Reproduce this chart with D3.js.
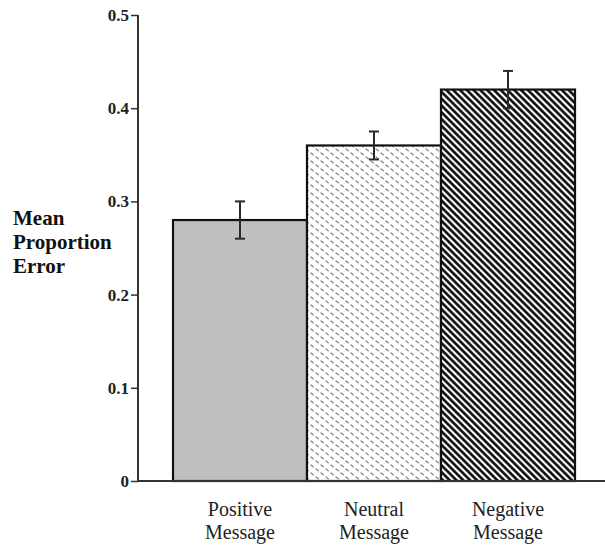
<!DOCTYPE html>
<html>
<head>
<meta charset="utf-8">
<script src="https://cdn.jsdelivr.net/npm/d3@7"></script>
<style>
  body { margin: 0; background: #fff; }
</style>
</head>
<body>
<script>
// data
const categories = ["Positive Message", "Neutral Message", "Negative Message"];
const means = [0.28, 0.36, 0.42];
const errLow = [0.26, 0.345, 0.40];
const errHigh = [0.30, 0.375, 0.44];
const yTicks = [0, 0.1, 0.2, 0.3, 0.4, 0.5];
const fills = ["#bfbfbf", "url(#dots)", "url(#stripes)"];

const W = 605, H = 546;
const axisX = 138, zeroY = 481, topY = 15;
const serif = "'Liberation Serif', 'Times New Roman', serif";

const svg = d3.select("body").append("svg")
  .attr("width", W).attr("height", H);

// patterns
const defs = svg.append("defs");
const dots = defs.append("pattern")
  .attr("id", "dots")
  .attr("patternUnits", "userSpaceOnUse")
  .attr("width", 10).attr("height", 8);
dots.append("rect").attr("width", 10).attr("height", 8).attr("fill", "#fff");
dots.append("path")
  .attr("d", "M1,1 L3.3,2.8 M6,5 L8.3,6.8")
  .attr("stroke", "#858585").attr("stroke-width", 1.3)
  .attr("stroke-linecap", "round");

const stripes = defs.append("pattern")
  .attr("id", "stripes")
  .attr("patternUnits", "userSpaceOnUse")
  .attr("width", 4.8).attr("height", 10)
  .attr("patternTransform", "rotate(-45)");
stripes.append("rect").attr("width", 4.8).attr("height", 10).attr("fill", "#fff");
stripes.append("line")
  .attr("x1", 2.4).attr("x2", 2.4).attr("y1", 0).attr("y2", 10)
  .attr("stroke", "#000").attr("stroke-width", 2.5);

// scales
const x = d3.scaleBand().domain(categories).range([173, 575]).padding(0);
const y = d3.scaleLinear().domain([0, 0.5]).range([zeroY, topY]);

// bars
svg.selectAll(".bar")
  .data(categories)
  .enter()
  .append("rect")
  .attr("class", "bar")
  .attr("x", (d) => x(d))
  .attr("y", (d, i) => y(means[i]))
  .attr("width", x.bandwidth())
  .attr("height", (d, i) => zeroY - y(means[i]))
  .attr("fill", (d, i) => fills[i])
  .attr("stroke", "#111")
  .attr("stroke-width", 2.2);

// error bars
const eb = svg.selectAll(".err")
  .data(categories)
  .enter()
  .append("g")
  .attr("class", "err")
  .attr("stroke", "#2a2a2a")
  .attr("stroke-width", 2);
eb.append("line")
  .attr("x1", (d) => x(d) + x.bandwidth() / 2)
  .attr("x2", (d) => x(d) + x.bandwidth() / 2)
  .attr("y1", (d, i) => y(errHigh[i]))
  .attr("y2", (d, i) => y(errLow[i]));
[errHigh, errLow].forEach((arr) => {
  eb.append("line")
    .attr("x1", (d) => x(d) + x.bandwidth() / 2 - 5)
    .attr("x2", (d) => x(d) + x.bandwidth() / 2 + 5)
    .attr("y1", (d, i) => y(arr[i]))
    .attr("y2", (d, i) => y(arr[i]));
});

// y axis
const yAxis = d3.axisLeft(y)
  .tickValues(yTicks)
  .tickSize(7)
  .tickPadding(2)
  .tickFormat((d) => (d === 0 ? "0" : d3.format(".1f")(d)));
const gY = svg.append("g")
  .attr("transform", "translate(" + axisX + ",0)")
  .call(yAxis)
  .attr("font-family", serif)
  .attr("font-size", 17);
gY.select(".domain").remove();
gY.selectAll(".tick line").attr("stroke", "#333").attr("stroke-width", 1.5);
gY.selectAll(".tick text")
  .attr("font-weight", "bold")
  .attr("fill", "#222");
svg.append("line")
  .attr("x1", axisX).attr("x2", axisX)
  .attr("y1", topY).attr("y2", zeroY)
  .attr("stroke", "#333").attr("stroke-width", 2);

// x axis baseline
svg.append("line")
  .attr("x1", axisX).attr("x2", W)
  .attr("y1", zeroY).attr("y2", zeroY)
  .attr("stroke", "#333").attr("stroke-width", 2);

// category labels
const lab = svg.selectAll(".cat")
  .data(categories)
  .enter()
  .append("text")
  .attr("class", "cat")
  .attr("text-anchor", "middle")
  .attr("font-family", serif)
  .attr("font-size", 20)
  .attr("fill", "#222");
lab.each(function (d) {
  const words = d.split(" ");
  const cx = x(d) + x.bandwidth() / 2;
  words.forEach((w, k) => {
    d3.select(this).append("tspan")
      .attr("x", cx)
      .attr("y", 516 + k * 23)
      .text(w);
  });
});

// y title
const yt = svg.append("text")
  .attr("font-family", serif)
  .attr("font-size", 21)
  .attr("font-weight", "bold")
  .attr("fill", "#111");
["Mean", "Proportion", "Error"].forEach((w, k) => {
  yt.append("tspan").attr("x", 13).attr("y", 225 + k * 24).text(w);
});
</script>
</body>
</html>
